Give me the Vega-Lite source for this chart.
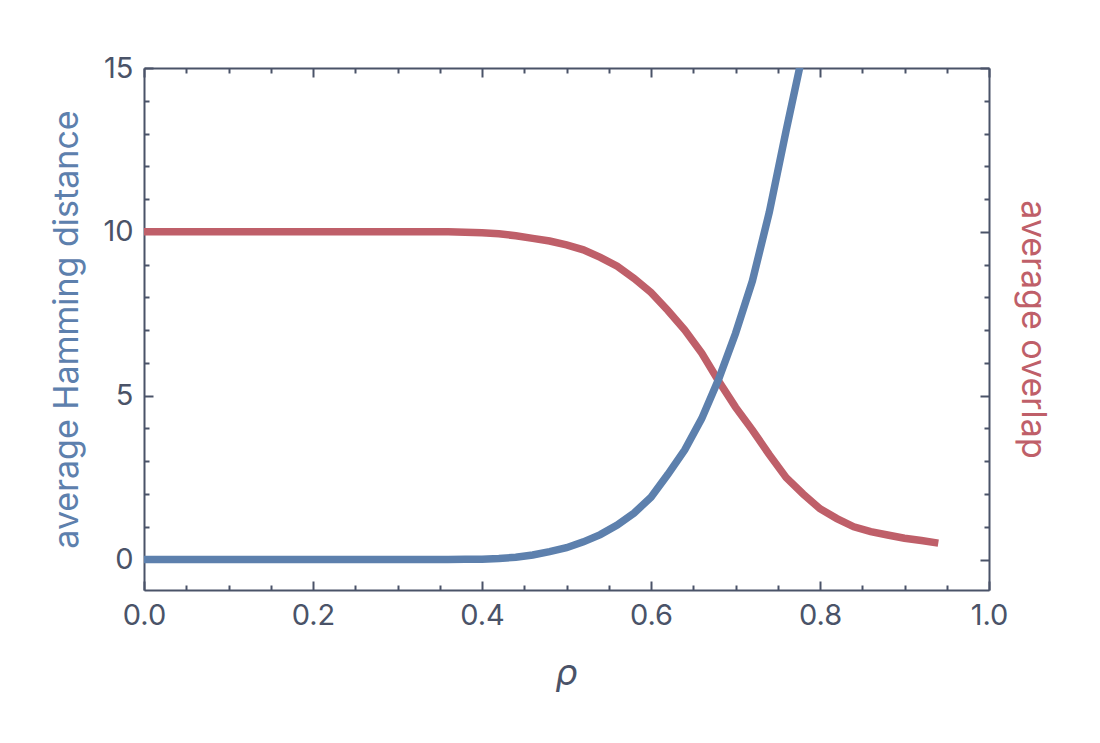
{
  "$schema": "https://vega.github.io/schema/vega-lite/v6.json",
  "width": 845,
  "height": 522,
  "autosize": {"type": "none"},
  "padding": {"left": 144, "top": 68, "right": 111, "bottom": 153},
  "background": "white",
  "config": {
    "view": {"stroke": null},
    "font": "Inter",
    "axis": {
      "domainColor": "#4a5368",
      "domainWidth": 2,
      "tickColor": "#4a5368",
      "tickWidth": 2,
      "labelColor": "#4a5368",
      "labelFont": "Inter",
      "labelFontSize": 29,
      "labelFlush": false,
      "titleFont": "Inter",
      "titleFontWeight": "normal",
      "grid": false
    }
  },
  "data": {
    "values": [
      {"rho": 0.00, "hamming": 0, "overlap": 10.0},
      {"rho": 0.02, "hamming": 0, "overlap": 10.0},
      {"rho": 0.04, "hamming": 0, "overlap": 10.0},
      {"rho": 0.06, "hamming": 0, "overlap": 10.0},
      {"rho": 0.08, "hamming": 0, "overlap": 10.0},
      {"rho": 0.10, "hamming": 0, "overlap": 10.0},
      {"rho": 0.12, "hamming": 0, "overlap": 10.0},
      {"rho": 0.14, "hamming": 0, "overlap": 10.0},
      {"rho": 0.16, "hamming": 0, "overlap": 10.0},
      {"rho": 0.18, "hamming": 0, "overlap": 10.0},
      {"rho": 0.20, "hamming": 0, "overlap": 10.0},
      {"rho": 0.22, "hamming": 0, "overlap": 10.0},
      {"rho": 0.24, "hamming": 0, "overlap": 10.0},
      {"rho": 0.26, "hamming": 0, "overlap": 10.0},
      {"rho": 0.28, "hamming": 0, "overlap": 10.0},
      {"rho": 0.30, "hamming": 0, "overlap": 10.0},
      {"rho": 0.32, "hamming": 0, "overlap": 10.0},
      {"rho": 0.34, "hamming": 0, "overlap": 10.0},
      {"rho": 0.36, "hamming": 0, "overlap": 10.0},
      {"rho": 0.38, "hamming": 0.005, "overlap": 9.99},
      {"rho": 0.40, "hamming": 0.01, "overlap": 9.97},
      {"rho": 0.42, "hamming": 0.03, "overlap": 9.94},
      {"rho": 0.44, "hamming": 0.07, "overlap": 9.88},
      {"rho": 0.46, "hamming": 0.14, "overlap": 9.8},
      {"rho": 0.48, "hamming": 0.24, "overlap": 9.72},
      {"rho": 0.50, "hamming": 0.36, "overlap": 9.6},
      {"rho": 0.52, "hamming": 0.54, "overlap": 9.45},
      {"rho": 0.54, "hamming": 0.76, "overlap": 9.22},
      {"rho": 0.56, "hamming": 1.05, "overlap": 8.95},
      {"rho": 0.58, "hamming": 1.42, "overlap": 8.58},
      {"rho": 0.60, "hamming": 1.9, "overlap": 8.15},
      {"rho": 0.62, "hamming": 2.6, "overlap": 7.6},
      {"rho": 0.64, "hamming": 3.35, "overlap": 7.0},
      {"rho": 0.66, "hamming": 4.3, "overlap": 6.3},
      {"rho": 0.68, "hamming": 5.5, "overlap": 5.45},
      {"rho": 0.70, "hamming": 6.9, "overlap": 4.65},
      {"rho": 0.72, "hamming": 8.5, "overlap": 3.95},
      {"rho": 0.74, "hamming": 10.6, "overlap": 3.2},
      {"rho": 0.76, "hamming": 13.1, "overlap": 2.5},
      {"rho": 0.78, "hamming": 15.5, "overlap": 2.0},
      {"rho": 0.80, "hamming": null, "overlap": 1.55},
      {"rho": 0.82, "hamming": null, "overlap": 1.25},
      {"rho": 0.84, "hamming": null, "overlap": 1.0},
      {"rho": 0.86, "hamming": null, "overlap": 0.85},
      {"rho": 0.88, "hamming": null, "overlap": 0.75},
      {"rho": 0.90, "hamming": null, "overlap": 0.65},
      {"rho": 0.92, "hamming": null, "overlap": 0.58},
      {"rho": 0.94, "hamming": null, "overlap": 0.5}
    ]
  },
  "layer": [
    {
      "description": "minor ticks bottom / left",
      "mark": {"type": "line", "opacity": 0},
      "encoding": {
        "x": {
          "field": "rho", "type": "quantitative",
          "scale": {"domain": [0, 1], "nice": false, "zero": false},
          "axis": {
            "orient": "bottom",
            "values": [0.05, 0.1, 0.15, 0.25, 0.3, 0.35, 0.45, 0.5, 0.55, 0.65, 0.7, 0.75, 0.85, 0.9, 0.95],
            "labels": false, "domain": false, "title": null, "tickSize": -5
          }
        },
        "y": {
          "field": "overlap", "type": "quantitative",
          "scale": {"domain": [-0.93, 15], "nice": false, "zero": false},
          "axis": {
            "orient": "left",
            "values": [1, 2, 3, 4, 6, 7, 8, 9, 11, 12, 13, 14],
            "labels": false, "domain": false, "title": null, "tickSize": -5
          }
        }
      }
    },
    {
      "description": "minor ticks top / right",
      "mark": {"type": "line", "opacity": 0},
      "encoding": {
        "x": {
          "field": "rho", "type": "quantitative",
          "axis": {
            "orient": "top",
            "values": [0.05, 0.1, 0.15, 0.25, 0.3, 0.35, 0.45, 0.5, 0.55, 0.65, 0.7, 0.75, 0.85, 0.9, 0.95],
            "labels": false, "domain": false, "title": null, "tickSize": -5
          }
        },
        "y": {
          "field": "overlap", "type": "quantitative",
          "axis": {
            "orient": "right",
            "values": [1, 2, 3, 4, 6, 7, 8, 9, 11, 12, 13, 14],
            "labels": false, "domain": false, "title": null, "tickSize": -5
          }
        }
      }
    },
    {
      "description": "average overlap",
      "mark": {"type": "line", "color": "#bf5f69", "strokeWidth": 7.5, "clip": true},
      "encoding": {
        "x": {
          "field": "rho", "type": "quantitative",
          "axis": {
            "orient": "top",
            "values": [0, 0.2, 0.4, 0.6, 0.8, 1.0],
            "labels": false, "title": null, "tickSize": -9
          }
        },
        "y": {
          "field": "overlap", "type": "quantitative",
          "axis": {
            "orient": "right",
            "values": [0, 5, 10, 15],
            "labels": false, "tickSize": -9,
            "title": "average overlap",
            "titleColor": "#bf5f69",
            "titleFontSize": 34,
            "titlePadding": 24
          }
        }
      }
    },
    {
      "description": "average Hamming distance",
      "mark": {"type": "line", "color": "#5d80ad", "strokeWidth": 7.5, "clip": true},
      "encoding": {
        "x": {
          "field": "rho", "type": "quantitative",
          "axis": {
            "orient": "bottom",
            "values": [0, 0.2, 0.4, 0.6, 0.8, 1.0],
            "format": ".1f",
            "tickSize": -9,
            "labelPadding": 20,
            "title": "ρ",
            "titleFontStyle": "italic",
            "titleFontSize": 36,
            "titleColor": "#4a5368",
            "titlePadding": 26
          }
        },
        "y": {
          "field": "hamming", "type": "quantitative",
          "axis": {
            "orient": "left",
            "values": [0, 5, 10, 15],
            "tickSize": -9,
            "labelPadding": 20,
            "title": "average Hamming distance",
            "titleColor": "#5d80ad",
            "titleFontSize": 34,
            "titlePadding": 18
          }
        }
      }
    }
  ],
  "resolve": {"axis": {"x": "independent", "y": "independent"}}
}
